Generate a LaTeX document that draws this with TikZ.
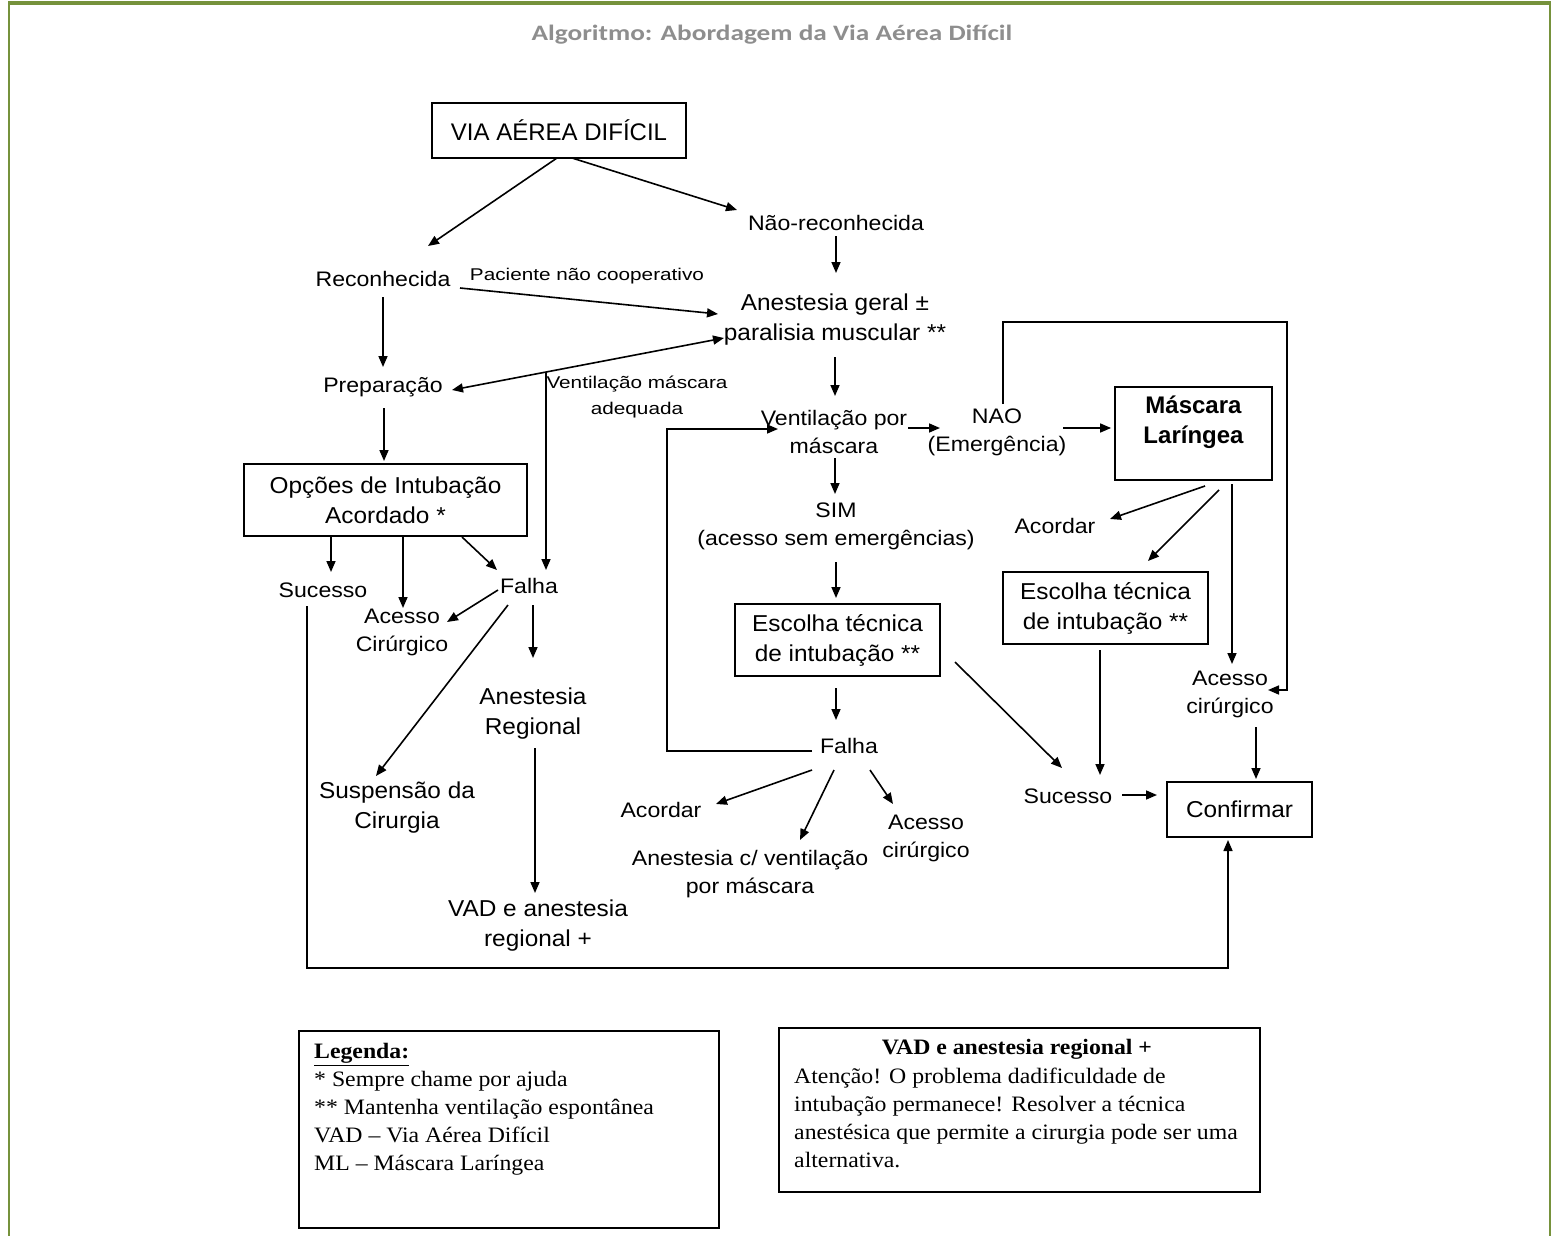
\documentclass[tikz,border=0pt]{standalone}
\usepackage{fontspec}
\setmainfont{Liberation Sans}
\newfontfamily\fsm{Liberation Sans}[FakeStretch=1.1]
\newfontfamily\fbg{Liberation Sans}[FakeStretch=1.06]
\newfontfamily\ftn{Liberation Sans}[FakeStretch=1.22]
\newfontfamily\fpl{Liberation Sans}
\newfontfamily\fttl{Carlito}[FakeStretch=1.24]
\newfontfamily\fser{Liberation Serif}[FakeStretch=1.08]
\usetikzlibrary{arrows.meta,calc}
\definecolor{frameg}{HTML}{76923C}
\definecolor{ttlgray}{HTML}{8E8E8E}
\begin{document}
\begin{tikzpicture}[x=1pt,y=-1pt,
  sm/.style={font=\fsm\fontsize{21}{28}\selectfont, align=center, inner sep=0pt},
  bg/.style={font=\fbg\fontsize{23}{30}\selectfont, align=center, inner sep=0pt},
  tn/.style={font=\ftn\fontsize{17}{26}\selectfont, align=center, inner sep=0pt},
  box/.style={draw, line width=1.8pt, inner sep=0pt},
  arr/.style={line width=1.6pt, -{Triangle[length=11pt,width=9pt]}},
  dbl/.style={line width=1.6pt, {Triangle[length=11pt,width=9pt]}-{Triangle[length=11pt,width=9pt]}},
  sertxt/.style={font=\fser\fontsize{22}{28}\selectfont, inner sep=0pt}
]
\useasboundingbox (0,0) rectangle (1551,1236);
\fill[white] (0,0) rectangle (1551,1236);
% frame
\draw[frameg, line width=3.5pt] (8,3) -- (1551,3);
\draw[frameg, line width=2.5pt] (9,3) -- (9,1236);
\draw[frameg, line width=2.5pt] (1550,3) -- (1550,1236);

\node[font=\fttl\bfseries\fontsize{22}{26}\selectfont, text=ttlgray, inner sep=0pt] (title) at (772,35) {Algoritmo: Abordagem da Via Aérea Difícil};

% nodes
\node[box, font=\fpl\fontsize{24}{28}\selectfont, minimum width=254, minimum height=55] (via) at (559,130.5) {VIA AÉREA DIFÍCIL};
\node[sm] (nrec) at (836,223) {Não-reconhecida};
\node[sm] (rec) at (383,279) {Reconhecida};
\node[tn] (pnc) at (587,276) {Paciente não cooperativo};
\node[bg] (ager) at (835,320) {Anestesia geral ±\\paralisia muscular **};
\node[sm] (prep) at (383,387) {Preparação};
\node[tn] (vma) at (637,397) {Ventilação máscara\\adequada};
\node[box,bg,minimum width=283,minimum height=72] (opc) at (385.5,500) {Opções de Intubação\\Acordado *};
\node[sm] (vpm) at (834,432) {Ventilação por\\máscara};
\node[sm] (nao) at (997,432) {NAO\\(Emergência)};
\node[box, minimum width=157, minimum height=93] (mlb) at (1193.5,433.5) {};
\node[font=\fpl\bfseries\fontsize{24}{30}\selectfont, align=center, inner sep=0pt] (mlt) at (1193.5,422) {Máscara\\Laríngea};
\node[sm] (sim) at (836,526) {SIM\\(acesso sem emergências)};
\node[sm] (acr) at (1055,526) {Acordar};
\node[box,bg,minimum width=205,minimum height=72] (esr) at (1105.5,608) {Escolha técnica\\de intubação **};
\node[box,bg,minimum width=205,minimum height=72] (esm) at (837.5,640) {Escolha técnica\\de intubação **};
\node[sm] (sucl) at (323,590) {Sucesso};
\node[sm] (falhal) at (529,586) {Falha};
\node[sm] (acl) at (402,632) {Acesso\\Cirúrgico};
\node[bg] (areg) at (533,714) {Anestesia\\Regional};
\node[bg] (susp) at (397,808) {Suspensão da\\Cirurgia};
\node[bg] (vad) at (538,926) {VAD e anestesia\\regional +};
\node[sm] (falham) at (849,746) {Falha};
\node[sm] (acdr) at (1230,694) {Acesso\\cirúrgico};
\node[sm] (acm) at (661,810) {Acordar};
\node[sm] (acv) at (750,874) {Anestesia c/ ventilação\\por máscara};
\node[sm] (acc) at (926,838) {Acesso\\cirúrgico};
\node[sm] (sucr) at (1068,796) {Sucesso};
\node[box,bg,minimum width=145,minimum height=55] (conf) at (1239.5,809.5) {Confirmar};

% legends
\node[box, minimum width=420, minimum height=197, anchor=north west] (leg1) at (298,1030) {};
\node[sertxt, align=left, anchor=north west] (leg1t) at (314,1043) {\underline{\textbf{Legenda:}}\\* Sempre chame por ajuda\\** Mantenha ventilação espontânea\\VAD – Via Aérea Difícil\\ML – Máscara Laríngea};
\node[box, minimum width=481, minimum height=164, anchor=north west] (leg2) at (778,1027) {};
\node[sertxt, font=\fser\bfseries\fontsize{22}{28}\selectfont] (leg2h) at (1017,1049) {VAD e anestesia regional +};
\node[sertxt, align=left, anchor=north west] (leg2t) at (794,1068) {Atenção! O problema dadificuldade de\\intubação permanece! Resolver a técnica\\anestésica que permite a cirurgia pode ser uma\\alternativa.};

% connectors
\draw[arr] ($(via)+(-2,27.5)$) -- ($(rec)+(45,-33)$);
\draw[arr] ($(via)+(13,27.5)$) -- ($(nrec)+(-99,-13)$);
\draw[arr] ($(nrec)+(0,13)$) -- ($(ager)+(1,-47)$);
\draw[arr] ($(rec)+(77,9)$) -- ($(ager)+(-117,-6)$);
\draw[arr] ($(rec)+(0,18)$) -- ($(prep)+(0,-20)$);
\draw[dbl] ($(prep)+(69,3)$) -- coordinate[pos=0.3456] (fj) ($(ager)+(-111,18)$);
\draw[arr] (fj) -- ($(falhal)+(17,-16)$);
\draw[arr] ($(prep)+(1,21)$) -- ($(opc)+(-1.5,-39)$);
\draw[arr] ($(ager)+(0,37)$) -- ($(vpm)+(1,-36)$);
\draw[arr] ($(vpm)+(74,-4)$) -- ($(nao)+(-57,-4)$);
\draw[arr] ($(nao)+(66,-4)$) -- ($(mlb.west)+(-3,-5.5)$);
\draw[arr] ($(nao)+(6,-28)$) -- ++(0,-82) -- ++(284,0) -- ++(0,368) -- ($(acdr)+(38,-4)$);
\draw[arr] ($(vpm)+(1,26)$) -- ($(sim)+(-1,-32)$);
\draw[arr] ($(sim)+(0,36)$) -- ($(esm)+(-1.5,-42)$);
\draw[arr] ($(esm)+(-1.5,48)$) -- ($(falham)+(-13,-26)$);
\draw[arr] ($(falham)+(-37,5)$) -- ++(-145,0) -- ++(0,-322) -- ($(vpm)+(-56,-3)$);
\draw[arr] ($(falham)+(-37,24)$) -- ($(acm)+(55,-6)$);
\draw[arr] ($(falham)+(-15,24)$) -- ($(acv)+(50,-34)$);
\draw[arr] ($(falham)+(21,24)$) -- ($(acc)+(-33,-34)$);
\draw[arr] ($(esm)+(117.5,22)$) -- ($(sucr)+(-6,-28)$);
\draw[arr] ($(mlb)+(11.5,52.5)$) -- ($(acr)+(55,-7)$);
\draw[arr] ($(mlb)+(25.5,56.5)$) -- ($(esr)+(42.5,-47)$);
\draw[arr] ($(mlb)+(38.5,50.5)$) -- ($(acdr)+(2,-30)$);
\draw[arr] ($(esr)+(-5.5,42)$) -- ($(sucr)+(32,-21)$);
\draw[arr] ($(sucr)+(54,-1)$) -- ($(conf)+(-82.5,-14.5)$);
\draw[arr] ($(acdr)+(26,33)$) -- ($(conf)+(16.5,-30.5)$);
\draw[arr] ($(sucl)+(-16,16)$) -- ++(0,362) -- ++(921,0) -- ($(conf)+(-11.5,30.5)$);
\draw[arr] ($(opc)+(-54.5,37)$) -- ($(sucl)+(8,-18)$);
\draw[arr] ($(opc)+(17.5,37)$) -- ($(acl)+(1,-24)$);
\draw[arr] ($(opc)+(76.5,37)$) -- ($(falhal)+(-32,-16)$);
\draw[arr] ($(falhal)+(-31,4)$) -- ($(acl)+(45,-10)$);
\draw[arr] ($(falhal)+(-21,19)$) -- ($(susp)+(-21,-32)$);
\draw[arr] ($(falhal)+(4,19)$) -- ($(areg)+(0,-56)$);
\draw[arr] ($(areg)+(2,34)$) -- ($(vad)+(-3,-33)$);
\end{tikzpicture}
\end{document}
